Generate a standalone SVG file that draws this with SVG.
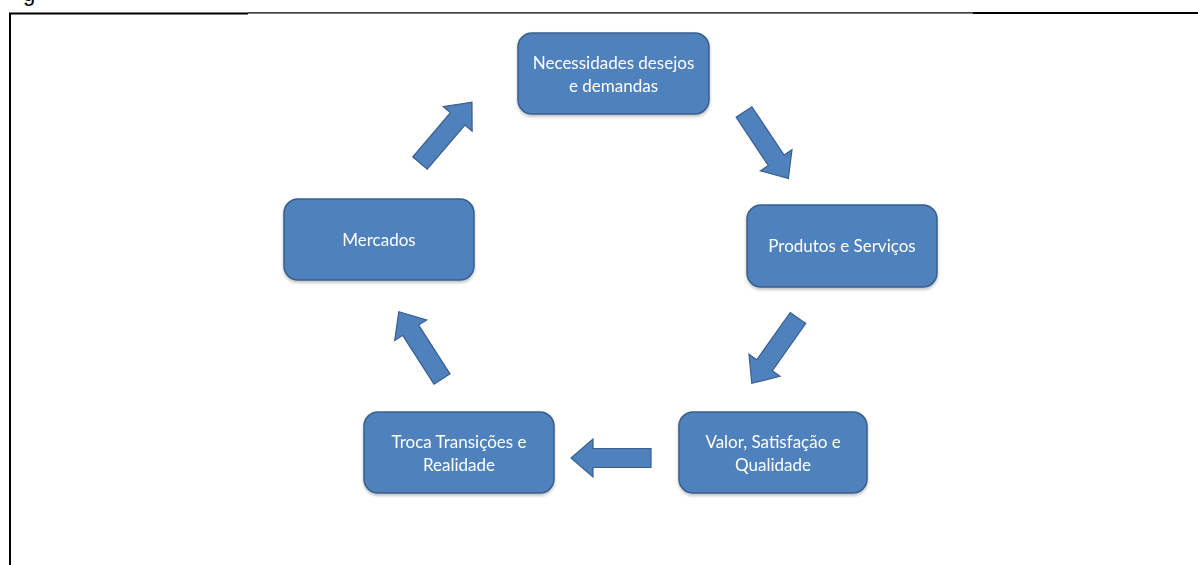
<svg xmlns="http://www.w3.org/2000/svg" xmlns:xlink="http://www.w3.org/1999/xlink" width="1198" height="565" viewBox="0 0 1198 565">
  <style>
    .box { fill: #4F81BD; stroke: #3A5F8C; stroke-width: 1.5; }
    .lbl { fill: #FFFFFF; font-family: Lato, "Open Sans", "Liberation Sans", sans-serif; font-size: 17px; text-anchor: middle; }
    .arr { fill: #4F81BD; stroke: #3A5F8C; stroke-width: 1.2; stroke-linejoin: miter; }
    .frame { stroke: #000000; fill: none; }
  </style>
  <defs>
    <filter id="sh" x="-10%" y="-10%" width="120%" height="130%">
      <feDropShadow dx="0" dy="2" stdDeviation="1.5" flood-color="#000000" flood-opacity="0.25"/>
    </filter>
    <polygon id="arrow" points="0,-9.5 58,-9.5 58,-19 80,0 58,19 58,9.5 0,9.5"/>
  </defs>
  <rect width="1198" height="565" fill="#FFFFFF"/>

  <!-- page frame -->
  <g id="frame">
    <text x="23" y="1" font-family="Liberation Sans, Arial, sans-serif" font-size="22" fill="#000000">g</text>
    <line class="frame" x1="10" y1="13.5" x2="10" y2="565" stroke-width="2"/>
    <line class="frame" x1="9" y1="13.5" x2="248" y2="13.5" stroke-width="2"/>
    <line class="frame" x1="248" y1="12.8" x2="973" y2="12.8" stroke-width="1.3"/>
    <line class="frame" x1="973" y1="13" x2="1198" y2="13" stroke-width="2.2"/>
  </g>

  <!-- connectors -->
  <g id="connectors">
    <use href="#arrow" class="arr" transform="translate(744,112) rotate(56.3)"/>
    <use href="#arrow" class="arr" transform="translate(798,318) rotate(125.3)"/>
    <use href="#arrow" class="arr" transform="translate(651,458) rotate(180)"/>
    <use href="#arrow" class="arr" transform="translate(442,379) rotate(-122.7)"/>
    <use href="#arrow" class="arr" transform="translate(420,163) rotate(-49.5)"/>
  </g>

  <g id="node-necessidades" filter="url(#sh)">
    <rect class="box" x="518" y="33" width="191" height="81" rx="14"/>
    <text class="lbl" x="613.5" y="69">Necessidades desejos</text>
    <text class="lbl" x="613.5" y="92">e demandas</text>
  </g>

  <g id="node-produtos" filter="url(#sh)">
    <rect class="box" x="747" y="205" width="190" height="82" rx="14"/>
    <text class="lbl" x="842" y="252">Produtos e Serviços</text>
  </g>

  <g id="node-valor" filter="url(#sh)">
    <rect class="box" x="679" y="412" width="188" height="81" rx="14"/>
    <text class="lbl" x="773" y="448">Valor, Satisfação e</text>
    <text class="lbl" x="773" y="471">Qualidade</text>
  </g>

  <g id="node-troca" filter="url(#sh)">
    <rect class="box" x="364" y="412" width="190" height="81" rx="14"/>
    <text class="lbl" x="459" y="448">Troca Transições e</text>
    <text class="lbl" x="459" y="471">Realidade</text>
  </g>

  <g id="node-mercados" filter="url(#sh)">
    <rect class="box" x="284" y="199" width="190" height="81" rx="14"/>
    <text class="lbl" x="379" y="246">Mercados</text>
  </g>
</svg>
